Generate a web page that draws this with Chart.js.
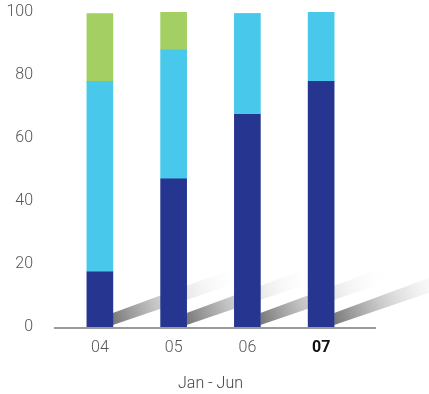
<!DOCTYPE html>
<html>
<head>
<meta charset="utf-8">
<script src="https://cdn.jsdelivr.net/npm/chart.js@4"></script>
<style>
  html, body { margin: 0; padding: 0; background: #fff; overflow: hidden; }
  canvas { display: block; }
</style>
</head>
<body>
<canvas id="meses" width="429" height="394"></canvas>
<script>
// valores por mes
const meses = ['04', '05', '06', '07'];
const azulEscuro = [17.5, 47, 67.5, 78];
const azulClaro = [60.5, 41, 32, 22];
const verde = [21.5, 12, 0, 0];
const yTicks = [0, 20, 40, 60, 80, 100];

// sombra diagonal atras de cada barra
const sombras = {
    id: 'sombras',
    beforeDatasetsDraw(chart) {
        const ctx = chart.ctx;
        const base = chart.scales.y.getPixelForValue(0);
        const meta = chart.getDatasetMeta(0);
        const len = 130;
        ctx.save();
        meta.data.forEach(bar => {
            const x = bar.x + bar.width / 2;
            const y0 = base - 2;
            const g = ctx.createLinearGradient(x, y0, x + len, y0 - len * 0.36);
            g.addColorStop(0, 'rgba(110,110,110,0.95)');
            g.addColorStop(0.35, 'rgba(180,180,180,0.75)');
            g.addColorStop(0.7, 'rgba(225,225,225,0.35)');
            g.addColorStop(1, 'rgba(255,255,255,0)');
            ctx.fillStyle = g;
            ctx.beginPath();
            ctx.moveTo(x, y0);
            ctx.lineTo(x + len, y0 - len * 0.34);
            ctx.lineTo(x + len, y0 - len * 0.37 - 12);
            ctx.lineTo(x, y0 - 12);
            ctx.closePath();
            ctx.fill();
        });
        ctx.restore();
    },
    afterDatasetsDraw(chart) {
        // linha do eixo x
        const ctx = chart.ctx;
        const y = chart.scales.y.getPixelForValue(0);
        ctx.save();
        ctx.strokeStyle = '#9a9a9a';
        ctx.lineWidth = 2;
        ctx.beginPath();
        ctx.moveTo(chart.chartArea.left - 9, y + 1);
        ctx.lineTo(chart.chartArea.right + 18, y + 1);
        ctx.stroke();
        ctx.restore();
    }
};

const ctM = document.getElementById('meses').getContext('2d');
const grafico = new Chart(ctM, {
    type: 'bar',
    data: {
        labels: meses,
        datasets: [{
            label: 'A',
            data: azulEscuro,
            backgroundColor: '#253590'
        }, {
            label: 'B',
            data: azulClaro,
            backgroundColor: '#48c8ea'
        }, {
            label: 'C',
            data: verde,
            backgroundColor: '#a4cf63'
        }]
    },
    options: {
        responsive: false,
        animation: false,
        layout: {
            padding: { top: 12, right: 71, bottom: 0, left: 0 }
        },
        datasets: {
            bar: { barThickness: 26, borderWidth: 0 }
        },
        plugins: {
            legend: { display: false },
            tooltip: { enabled: false }
        },
        scales: {
            x: {
                stacked: true,
                afterFit: scale => { scale.height = 67; },
                grid: { display: false, drawTicks: false },
                border: { display: false },
                ticks: {
                    padding: 11,
                    color: ctx => ctx.index === 3 ? '#111' : '#555',
                    font: ctx => ({
                        family: 'Roboto',
                        size: 16,
                        weight: ctx.index === 3 ? 'bold' : '300'
                    })
                },
                title: {
                    display: true,
                    text: 'Jan - Jun',
                    color: '#444',
                    font: { family: 'Roboto', size: 16, weight: '300' },
                    padding: { top: 15, bottom: 0 }
                }
            },
            y: {
                stacked: true,
                min: 0,
                max: 100,
                afterFit: scale => {
                    scale.width = 63;
                    scale.paddingTop = 0;
                    scale.paddingBottom = 0;
                },
                afterBuildTicks: scale => {
                    scale.ticks = yTicks.map(v => ({ value: v }));
                },
                grid: { display: false, drawTicks: false },
                border: { display: false },
                ticks: {
                    padding: 30,
                    color: '#555',
                    font: { family: 'Roboto', size: 16, weight: '300' }
                }
            }
        }
    },
    plugins: [sombras]
});
</script>
</body>
</html>
